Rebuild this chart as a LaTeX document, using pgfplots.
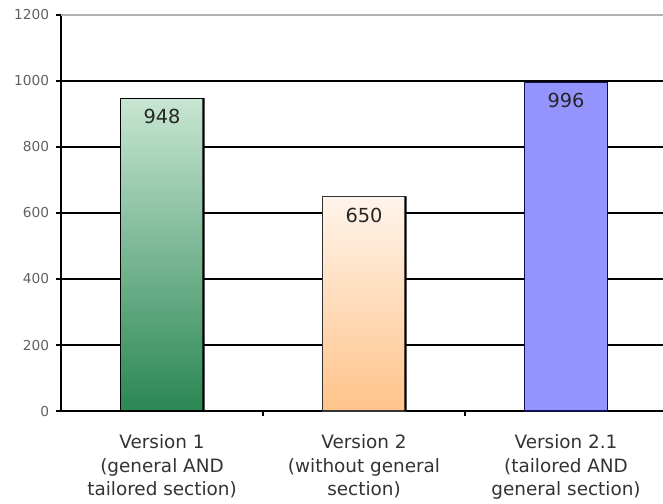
\documentclass[border=0pt]{standalone}
\usepackage{fontspec}
\setmainfont{DejaVu Sans}
\usepackage{pgfplots}
\pgfplotsset{compat=1.18}
\definecolor{gtop}{HTML}{C8E6D3}
\definecolor{gbot}{HTML}{2A8753}
\definecolor{otop}{HTML}{FFF4EA}
\definecolor{obot}{HTML}{FFC38A}
\definecolor{bflat}{HTML}{9494FF}
\definecolor{navy}{HTML}{101050}
\begin{document}
\begin{tikzpicture}
\begin{axis}[
  scale only axis, width=451.5pt, height=297pt,
  xmin=-0.5, xmax=2.48, ymin=0, ymax=1200,
  axis x line*=bottom, axis y line*=left,
  axis line style={-, black, line width=1.2pt},
  ytick={0,200,...,1200},
  ymajorgrids, grid style={black, line width=1pt},
  tick align=outside, major tick length=3.75pt,
  tick style={black, line width=1pt},
  xtick={0.5,1.5}, xticklabels={},
  extra x ticks={0,1,2},
  extra x tick labels={{Version 1\\(general AND\\tailored section)},{Version 2\\(without general\\section)},{Version 2.1\\(tailored AND\\general section)}},
  extra x tick style={major tick length=0pt, grid=none},
  xticklabel style={font=\fontsize{13.8}{17.6}\selectfont, align=center, text=black!80, anchor=north, inner sep=0pt, yshift=-17.5pt},
  yticklabel style={font=\fontsize{10.3}{12}\selectfont, text=black!62, inner sep=0pt, xshift=-5pt},
  /pgf/number format/assume math mode=true,
  yticklabel={\pgfmathprintnumber[1000 sep={}]{\tick}},
  clip=false,
]
\coordinate (O) at (rel axis cs:0,0);
\draw[gray!60, line width=1pt] (rel axis cs:0,1) -- (rel axis cs:1,1);
\addplot[ybar, bar width=62.25pt, bar shift=0pt, draw=black, line width=0.8pt, top color=gtop, bottom color=gbot,
  nodes near coords, every node near coord/.append style={anchor=north, inner sep=0pt, yshift=-8pt, font=\fontsize{14.5}{17}\selectfont, text=black!85}] coordinates {(0,948)};
\addplot[ybar, bar width=62.25pt, bar shift=0pt, draw=black!80, line width=0.8pt, top color=otop, bottom color=obot,
  nodes near coords, every node near coord/.append style={anchor=north, inner sep=0pt, yshift=-8pt, font=\fontsize{14.5}{17}\selectfont, text=black!85}] coordinates {(1,650)};
\addplot[ybar, bar width=62.25pt, bar shift=0pt, draw=navy, line width=0.8pt, fill=bflat,
  nodes near coords, every node near coord/.append style={anchor=north, inner sep=0pt, yshift=-8pt, font=\fontsize{14.5}{17}\selectfont, text=black!85}] coordinates {(2,996)};
% right-edge shadows of bars 1 and 2
\addplot[ybar, bar width=1.6pt, bar shift=31.1pt, draw=none, fill=black] coordinates {(0,948) (1,650)};
\end{axis}
\pgfresetboundingbox
\path ([shift={(-45.75pt,-69pt)}]O) rectangle ([shift={(451.5pt,308.25pt)}]O);
\end{tikzpicture}
\end{document}
